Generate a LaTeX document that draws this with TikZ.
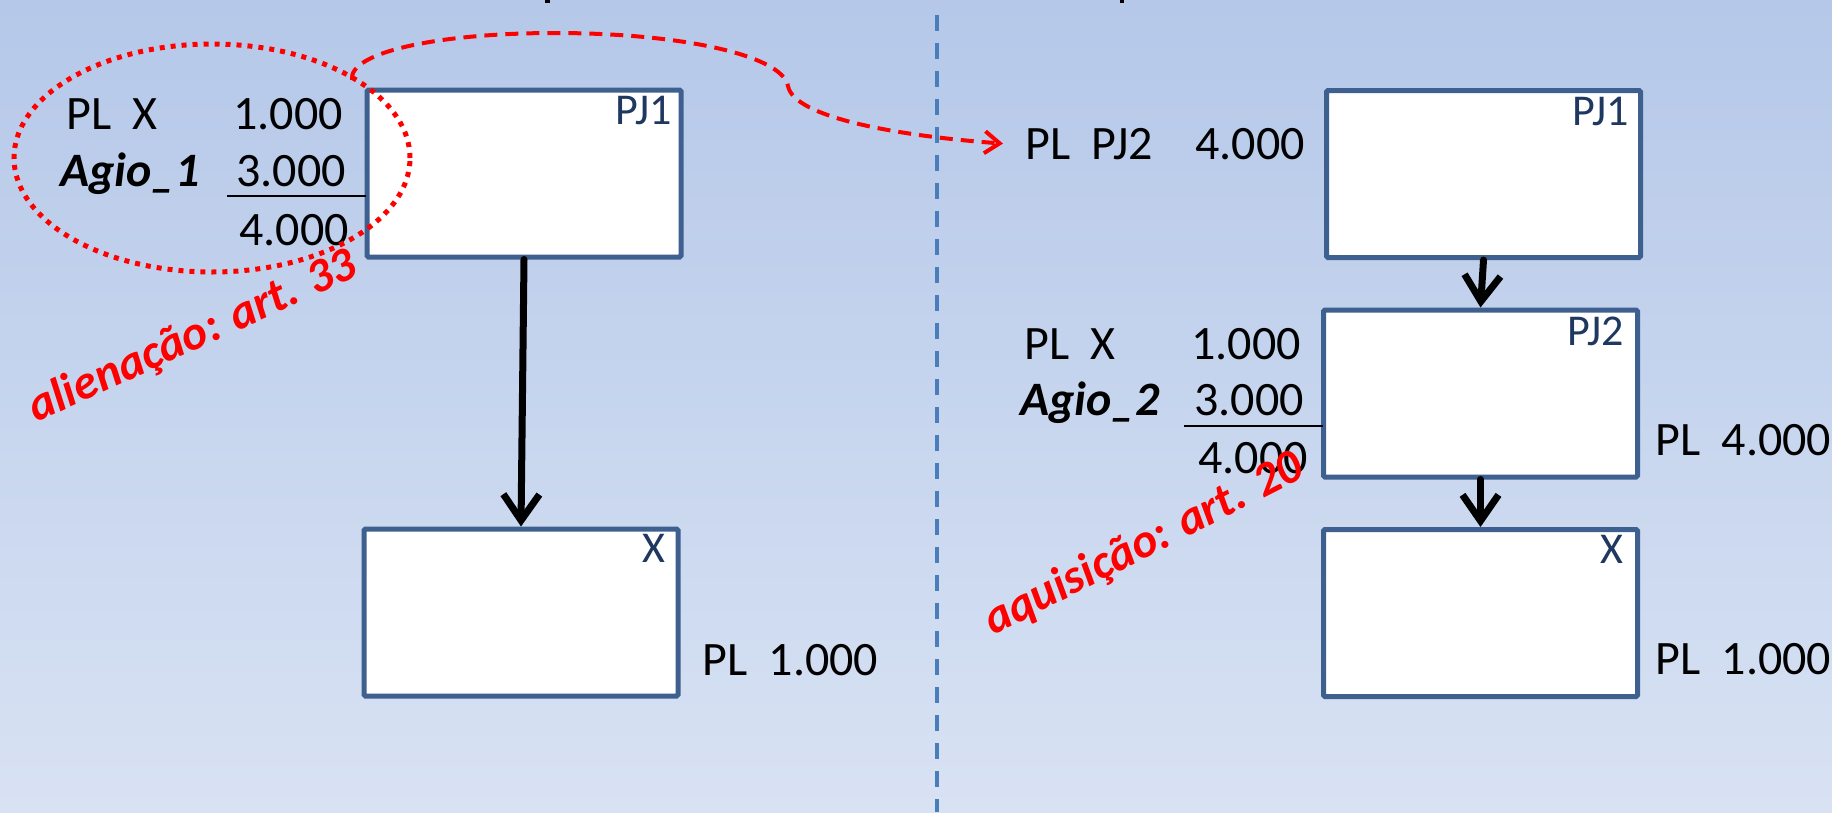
\documentclass[tikz,border=0pt]{standalone}
\usepackage{fontspec}
\setmainfont{Carlito}
\usetikzlibrary{arrows.meta}
\definecolor{bgtop}{RGB}{181,200,233}
\definecolor{bgbot}{RGB}{216,226,243}
\definecolor{boxline}{RGB}{62,96,142}
\definecolor{lblcol}{RGB}{31,56,96}
\definecolor{divcol}{RGB}{74,126,187}
\definecolor{redc}{RGB}{255,0,0}
\begin{document}
\begin{tikzpicture}[x=1pt,y=-1pt,
  entity/.style={draw=boxline, line width=5pt, fill=white, rounded corners=1.5pt,
                 minimum width=314pt, minimum height=167pt, inner sep=0pt},
  txt/.style={font=\fontsize{48}{57}\selectfont, inner sep=0pt, text=black},
  lbl/.style={font=\fontsize{44}{52}\selectfont, inner sep=0pt, text=lblcol, anchor=base east},
  redlbl/.style={font=\fontsize{48}{57}\selectfont\bfseries\itshape, inner sep=0pt, text=redc, anchor=base},
  own/.style={line width=7pt, -{Straight Barb[length=26pt,width=36pt]}, line cap=round, line join=round},
  sumline/.style={line width=2.5pt, black},
  reddash/.style={redc, line width=4pt, dash pattern=on 13pt off 8pt,
                  -{Straight Barb[length=15pt,width=22pt]}},
  reddot/.style={redc, line width=5pt, dash pattern=on 5pt off 6pt},
  divider/.style={divcol, line width=4pt, dash pattern=on 16pt off 12pt}
]
% background and bounding box
\shade[top color=bgtop, bottom color=bgbot] (0,0) rectangle (1832,812);
\useasboundingbox (0,0) rectangle (1832,812);
% fragments of cropped title
\fill[black] (545,0) rectangle (550,3);
\fill[black] (1120,0) rectangle (1124,3);
% divider
\draw[divider] (937,15) -- (937,812);

% left side boxes
\node[entity] (pj1l) at (524,173.5) {};
\node[entity] (xl) at (521,612.5) {};
% right side boxes
\node[entity] (pj1r) at (1483.5,174) {};
\node[entity] (pj2r) at (1480.5,393.5) {};
\node[entity] (xr) at (1480.5,613) {};

% box labels
\node[lbl] (pj1llbl) at ([xshift=-12pt,yshift=-37pt]pj1l.north east) {PJ1};
\node[lbl] (xllbl) at ([xshift=-15pt,yshift=-36pt]xl.north east) {X};
\node[lbl] (pj1rlbl) at ([xshift=-14pt,yshift=-37pt]pj1r.north east) {PJ1};
\node[lbl] (pj2rlbl) at ([xshift=-16pt,yshift=-38pt]pj2r.north east) {PJ2};
\node[lbl] (xrlbl) at ([xshift=-16pt,yshift=-36pt]xr.north east) {X};

% left accounting text
\node[txt, anchor=base west] (lplx) at (66,129) {PL~~X};
\node[txt, anchor=base east] (lv1) at (343,129) {1.000};
\node[txt, anchor=base west] (lagio) at (60,186) {\bfseries\itshape Agio\_1};
\node[txt, anchor=base east] (lv2) at (346,186) {3.000};
\draw[sumline] (227,196) -- (366,196);
\node[txt, anchor=base east] (lv3) at (349,245) {4.000};
\node[txt, anchor=base west] (lplxbot) at (702,675) {PL~~1.000};

% right accounting text
\node[txt, anchor=base west] (plpj2) at (1025,159) {PL~~PJ2};
\node[txt, anchor=base east] (plpj2v) at (1305,159) {4.000};
\node[txt, anchor=base west] (rplx) at (1024,359) {PL~~X};
\node[txt, anchor=base east] (rv1) at (1301,359) {1.000};
\node[txt, anchor=base west] (ragio) at (1020,415) {\bfseries\itshape Agio\_2};
\node[txt, anchor=base east] (rv2) at (1304,415) {3.000};
\draw[sumline] (1184,426) -- (1323,426);
\node[txt, anchor=base east] (rv3) at (1308,473) {4.000};
\node[txt, anchor=base west] (rpl4) at (1655,455) {PL~~4.000};
\node[txt, anchor=base west] (rpl1) at (1655,674) {PL~~1.000};

% ownership arrows
\draw[own] (pj1l.south) -- (xl.north);
\draw[own] (pj1r.south) -- (pj2r.north);
\draw[own] (pj2r.south) -- (xr.north);

% red annotations
\draw[reddot] (212,158) ellipse [x radius=198pt, y radius=114pt];
\coordinate (cstart) at (352,80);
\draw[reddash] (cstart) .. controls (348,52) and (440,33) .. (555,33)
  .. controls (680,33) and (782,55) .. (788,86)
  .. controls (794,118) and (900,136) .. ([xshift=-22pt]plpj2.west);
\node[redlbl, rotate=24.5] (alien) at (198,349) {alienação: art. 33};
\node[redlbl, rotate=27] (aquis) at (1150,556) {aquisição: art. 20};
\end{tikzpicture}
\end{document}
